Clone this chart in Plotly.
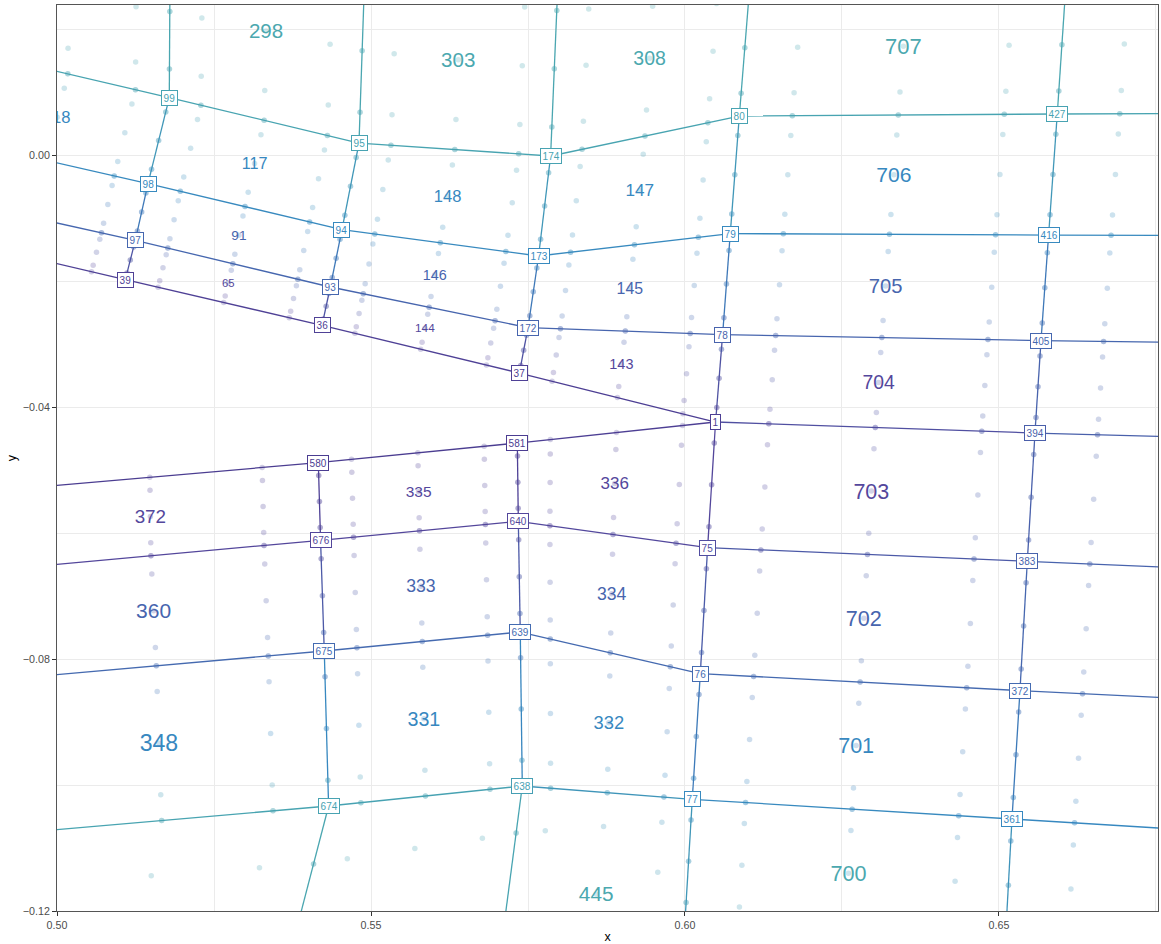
import math
import plotly.graph_objects as go
from plotly.colors import sample_colorscale

# ---------------- data ----------------
node_id = ["99", "95", "174", "80", "427",
           "98", "94", "173", "79", "416",
           "97", "93", "172", "78", "405",
           "39", "36", "37", "1", "394",
           "580", "581",
           "676", "640", "75", "383",
           "675", "639", "76", "372",
           "674", "638", "77", "361",
           "hT0", "hT1", "hT2", "hT3", "hT4", "hT5", "hT6",
           "hLA", "hLB", "hLC", "hLD", "hLE", "hLF", "hLG", "hLH",
           "hRA", "hRB", "hRC", "hRD", "hRF", "hRG", "hRH",
           "hB1", "hB2", "hB3", "hB4", "hB5", "hB6"]

node_x = [0.51788, 0.54809, 0.57860, 0.60865, 0.65928,
          0.51449, 0.54538, 0.57669, 0.60721, 0.65790,
          0.51247, 0.54352, 0.57500, 0.60599, 0.65669,
          0.51088, 0.54220, 0.57362, 0.60487, 0.65573,
          0.54161, 0.57330,
          0.54197, 0.57346, 0.60360, 0.65451,
          0.54256, 0.57377, 0.60244, 0.65334,
          0.54325, 0.57409, 0.60116, 0.65207,
          0.48588, 0.51804, 0.54909, 0.57978, 0.61040, 0.66076, 0.72027,
          0.48556, 0.48221, 0.48014, 0.47855, 0.48795, 0.48795, 0.48906, 0.49008,
          0.71900, 0.71757, 0.71645, 0.71550, 0.71422, 0.71311, 0.71183,
          0.48460, 0.52887, 0.56820, 0.59998, 0.65092, 0.71071]

node_y = [0.00916, 0.00195, -0.00011, 0.00624, 0.00656,
          -0.00449, -0.01180, -0.01599, -0.01243, -0.01266,
          -0.01350, -0.02091, -0.02736, -0.02847, -0.02942,
          -0.01974, -0.02700, -0.03457, -0.04235, -0.04410,
          -0.04880, -0.04569,
          -0.06114, -0.05812, -0.06230, -0.06447,
          -0.07871, -0.07570, -0.08230, -0.08500,
          -0.10333, -0.10015, -0.10226, -0.10539,
          0.03811, 0.03652, 0.03128, 0.02763, 0.02795, 0.02858, 0.02938,
          0.01671, 0.00281, -0.00635, -0.01218, -0.05345, -0.06604, -0.08343, -0.10793,
          0.00683, -0.01286, -0.03025, -0.04570, -0.06701, -0.08789, -0.10906,
          -0.15800, -0.15848, -0.14498, -0.12195, -0.12640, -0.13021]

node_val = [0.95, 0.95, 0.95, 0.95, 0.95,
            0.72, 0.72, 0.72, 0.72, 0.72,
            0.42, 0.42, 0.40, 0.38, 0.42,
            0.10, 0.10, 0.10, 0.08, 0.35,
            0.06, 0.06,
            0.14, 0.14, 0.20, 0.38,
            0.45, 0.45, 0.45, 0.45,
            0.95, 0.92, 0.72, 0.70,
            1, 1, 1, 1, 1, 1, 1,
            0.95, 0.72, 0.42, 0.10, 0.06, 0.14, 0.45, 0.95,
            0.95, 0.72, 0.42, 0.35, 0.38, 0.45, 0.70,
            1, 1, 1, 0.95, 0.90, 0.90]

elem_label = ["", "298", "303", "308", "707", "",
              "118", "117", "148", "147", "706", "",
              "", "91", "146", "145", "705", "",
              "", "65", "144", "143", "704", "",
              "372", "335", "336", "703", "",
              "360", "333", "334", "702", "",
              "348", "331", "332", "701", "",
              "", "", "445", "700", ""]

elem_nodes = [["hT0", "hT1", "99", "hLA"], ["hT1", "hT2", "95", "99"], ["hT2", "hT3", "174", "95"],
              ["hT3", "hT4", "80", "174"], ["hT4", "hT5", "427", "80"], ["hT5", "hT6", "hRA", "427"],
              ["hLA", "99", "98", "hLB"], ["99", "95", "94", "98"], ["95", "174", "173", "94"],
              ["174", "80", "79", "173"], ["80", "427", "416", "79"], ["427", "hRA", "hRB", "416"],
              ["hLB", "98", "97", "hLC"], ["98", "94", "93", "97"], ["94", "173", "172", "93"],
              ["173", "79", "78", "172"], ["79", "416", "405", "78"], ["416", "hRB", "hRC", "405"],
              ["hLC", "97", "39", "hLD"], ["97", "93", "36", "39"], ["93", "172", "37", "36"],
              ["172", "78", "1", "37"], ["78", "405", "394", "1"], ["405", "hRC", "hRD", "394"],
              ["hLE", "580", "676", "hLF"], ["580", "581", "640", "676"], ["581", "1", "75", "640"],
              ["1", "394", "383", "75"], ["394", "hRD", "hRF", "383"],
              ["hLF", "676", "675", "hLG"], ["676", "640", "639", "675"], ["640", "75", "76", "639"],
              ["75", "383", "372", "76"], ["383", "hRF", "hRG", "372"],
              ["hLG", "675", "674", "hLH"], ["675", "639", "638", "674"], ["639", "76", "77", "638"],
              ["76", "372", "361", "77"], ["372", "hRG", "hRH", "361"],
              ["hLH", "674", "hB2", "hB1"], ["674", "638", "hB3", "hB2"], ["638", "77", "hB4", "hB3"],
              ["77", "361", "hB5", "hB4"], ["361", "hRH", "hB6", "hB5"]]

elem_layer = [3, 3, 3, 3, 3, 3,
              2, 2, 2, 2, 2, 2,
              1, 1, 1, 1, 1, 1,
              0, 0, 0, 0, 0, 0,
              0, 0, 0, 0, 0,
              1, 1, 1, 1, 1,
              2, 2, 2, 2, 2,
              3, 3, 3, 3, 3]

x_ticks = [0.50, 0.55, 0.60, 0.65]
y_ticks = [-0.12, -0.08, -0.04, 0.00]

# ---------------- styles ----------------
colorscale = [[0.0, "#45368A"], [0.15, "#54479C"], [0.40, "#4765AE"],
              [0.70, "#3788C0"], [1.0, "#4BA8AF"]]
layer_colors = ["#54479C", "#4765AE", "#3788C0", "#4BA8AF"]
FONT = "Liberation Sans, Arial, Helvetica, sans-serif"
Y_RANGE = [-0.12, 0.02387]
PLOT_H_PX = 906

idx = {n: i for i, n in enumerate(node_id)}


def col(v):
    return sample_colorscale(colorscale, [min(max(v, 0), 1)])[0]


fig = go.Figure()

# ---- edges ----
edges = {}
for nodes in elem_nodes:
    for k in range(4):
        a, b = nodes[k], nodes[(k + 1) % 4]
        edges[tuple(sorted((a, b)))] = True

groups = {}
for a, b in edges:
    v = round((node_val[idx[a]] + node_val[idx[b]]) / 2 * 50) / 50
    groups.setdefault(v, []).append((a, b))

for v, lst in sorted(groups.items()):
    xs, ys = [], []
    for a, b in lst:
        xs += [node_x[idx[a]], node_x[idx[b]], None]
        ys += [node_y[idx[a]], node_y[idx[b]], None]
    fig.add_trace(go.Scatter(x=xs, y=ys, mode="lines",
                             line=dict(color=col(v), width=1.3),
                             hoverinfo="skip", showlegend=False))

# ---- integration points (bilinear positions inside each element) ----
params = [0, 1 / 6, 0.5, 5 / 6, 1]
px, py, pv = [], [], []
for nodes in elem_nodes:
    P = [(node_x[idx[n]], node_y[idx[n]], node_val[idx[n]]) for n in nodes]
    for xi in params:
        for eta in params:
            if xi in (0, 1) and eta in (0, 1):
                continue
            w = [(1 - xi) * (1 - eta), xi * (1 - eta), xi * eta, (1 - xi) * eta]
            px.append(sum(w[k] * P[k][0] for k in range(4)))
            py.append(sum(w[k] * P[k][1] for k in range(4)))
            pv.append(sum(w[k] * P[k][2] for k in range(4)))

fig.add_trace(go.Scatter(x=px, y=py, mode="markers",
                         marker=dict(size=5.5, color=pv, colorscale=colorscale,
                                     cmin=0, cmax=1, opacity=0.26, line=dict(width=0)),
                         hoverinfo="skip", showlegend=False))

# ---- element labels (size scaled by element area) ----
units_per_px = (Y_RANGE[1] - Y_RANGE[0]) / PLOT_H_PX
ex, ey, et, ec, es = [], [], [], [], []
for lab, nodes, layer in zip(elem_label, elem_nodes, elem_layer):
    if not lab:
        continue
    xs = [node_x[idx[n]] for n in nodes]
    ys = [node_y[idx[n]] for n in nodes]
    area = 0.5 * abs(sum(xs[k] * ys[(k + 1) % 4] - xs[(k + 1) % 4] * ys[k] for k in range(4)))
    size = min(max(64.88 + 6.3 * math.log(area), 10), 24)
    ex.append(sum(xs) / 4)
    # small shift so that the glyphs (not the line box) sit on the centroid
    ey.append(sum(ys) / 4 - 0.1 * size * units_per_px)
    et.append(lab)
    ec.append(layer_colors[layer])
    es.append(size)

fig.add_trace(go.Scatter(x=ex, y=ey, mode="text", text=et,
                         textfont=dict(color=ec, size=es, family=FONT),
                         cliponaxis=True, hoverinfo="skip", showlegend=False))

# ---- node labels ----
for n, x, y, v in zip(node_id, node_x, node_y, node_val):
    if n.startswith("h"):
        continue
    c = col(v)
    fig.add_annotation(x=x, y=y, text=n, showarrow=False,
                       font=dict(size=10, color=c, family=FONT),
                       bgcolor="white", bordercolor=c, borderwidth=1, borderpad=1.6)

axis_common = dict(
    showgrid=True, gridcolor="#EBEBEB", gridwidth=1.1,
    zeroline=False, showline=True, mirror=True, linecolor="#555555", linewidth=1,
    ticks="outside", ticklen=4, tickcolor="#333333", tickwidth=1,
    tickfont=dict(size=10.7, color="#4D4D4D", family=FONT),
    tickformat=".2f",
)

fig.update_layout(
    width=1161, height=944,
    margin=dict(l=57, r=3, t=5, b=33),
    paper_bgcolor="white", plot_bgcolor="white",
    font=dict(family=FONT),
    xaxis=dict(range=[0.5, 0.67532], tickvals=x_ticks,
               minor=dict(dtick=0.025, tick0=0, showgrid=True, gridcolor="#EBEBEB", gridwidth=0.6, ticklen=0),
               title=dict(text="x", font=dict(size=12.5, color="black", family=FONT), standoff=2),
               **axis_common),
    yaxis=dict(range=Y_RANGE, tickvals=y_ticks,
               minor=dict(dtick=0.02, tick0=0, showgrid=True, gridcolor="#EBEBEB", gridwidth=0.6, ticklen=0),
               title=dict(text="y", font=dict(size=12.5, color="black", family=FONT), standoff=3),
               **axis_common),
)

fig.write_html("out.html")
